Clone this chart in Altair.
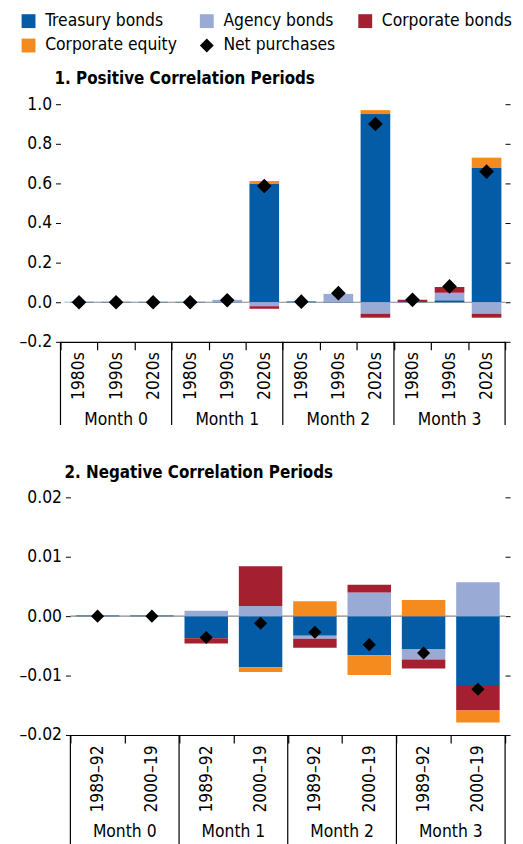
import altair as alt
import pandas as pd

FONT = "DejaVu Sans Condensed"
FS = 17.5

series = ["Treasury bonds", "Agency bonds", "Corporate bonds", "Corporate equity"]
series_colors = ["#045BA6", "#99AAD4", "#A41F30", "#F58A1F"]
net_label = "Net purchases"
months = ["Month 0", "Month 1", "Month 2", "Month 3"]

# Panel 1: Positive correlation periods
p1_periods = ["1980s", "1990s", "2020s"]
p1_treasury = [0.002, 0.002, 0.002, 0.002, 0.001, 0.600, 0.004, 0.003, 0.950, 0.006, 0.010, 0.680]
p1_agency = [0.0, 0.0, 0.0, 0.0, 0.011, -0.020, 0.0, 0.039, -0.058, 0.0, 0.038, -0.058]
p1_corp_bonds = [0.0, 0.0, 0.0, 0.0, 0.0, -0.013, 0.0, 0.0, -0.020, 0.006, 0.029, -0.020]
p1_corp_equity = [0.0, 0.0, 0.0, 0.0, 0.0, 0.012, 0.0, 0.0, 0.020, 0.0, 0.0, 0.050]
p1_net = [0.0, 0.0, 0.0, 0.0, 0.010, 0.587, 0.003, 0.046, 0.900, 0.012, 0.080, 0.660]
p1_ticks = [-0.2, 0.0, 0.2, 0.4, 0.6, 0.8, 1.0]

# Panel 2: Negative correlation periods
p2_periods = ["1989–92", "2000–19"]
p2_treasury = [0.0001, 0.0001, -0.0037, -0.0086, -0.0033, -0.0066, -0.0056, -0.0116]
p2_agency = [0.0, 0.0, 0.0009, 0.0017, -0.0005, 0.0040, -0.0017, 0.0057]
p2_corp_bonds = [0.0, 0.0, -0.0009, 0.0067, -0.0015, 0.0013, -0.0015, -0.0043]
p2_corp_equity = [0.0, 0.0, 0.0, -0.0008, 0.0025, -0.0033, 0.0027, -0.0020]
p2_net = [0.0, 0.0, -0.0036, -0.0012, -0.0027, -0.0048, -0.0062, -0.0123]
p2_ticks = [-0.02, -0.01, 0.0, 0.01, 0.02]

color_scale = alt.Scale(domain=series + [net_label], range=series_colors + ["black"])
shape_scale = alt.Scale(domain=series + [net_label],
                        range=["square", "square", "square", "square", "diamond"])
legend = alt.Legend(title=None, orient="none", legendX=-51, legendY=-93, columns=3,
                    direction="horizontal", symbolSize=196, symbolStrokeWidth=0,
                    labelFontSize=FS, labelFont=FONT, labelColor="black",
                    columnPadding=21, rowPadding=6, labelOffset=8, padding=0, offset=0)


def build_panel(periods, treasury, agency, corp_bonds, corp_equity, net, domain, ticks,
                decimals, title, width, left_extra, height, sep_len, month_y, dsize):
    keys = [f"{m}|{p}" for m in months for p in periods]
    rows = []
    for i, k in enumerate(keys):
        for j, vals in enumerate([treasury, agency, corp_bonds, corp_equity]):
            rows.append({"key": k, "series": series[j], "value": vals[i], "ord": j})
    bars_df = pd.DataFrame(rows)
    net_df = pd.DataFrame({"key": keys, "value": net, "series": [net_label] * len(keys)})
    starts_df = pd.DataFrame({"key": [f"{m}|{periods[0]}" for m in months]})
    end_df = pd.DataFrame({"key": [keys[-1]]})
    n = len(periods)
    mid = periods[n // 2]
    mid_bp = 0.5 if n % 2 else 0.0
    month_df = pd.DataFrame({"key": [f"{m}|{mid}" for m in months], "month": months})
    zero_df = pd.DataFrame({"zero": [0.0]})

    xscale = alt.Scale(domain=keys, range=[-left_extra, width], paddingInner=0, paddingOuter=0)
    yscale = alt.Scale(domain=domain, nice=False, zero=False)
    fmt = f".{decimals}f"
    ylabel = f"datum.value < 0 ? '–' + format(-datum.value, '{fmt}') : format(datum.value, '{fmt}')"

    xaxis = alt.Axis(title=None, labelExpr="split(datum.value, '|')[1]", labelAngle=270,
                     tickBand="extent", tickSize=8, tickColor="black", domainColor="black",
                     domainWidth=1.2, tickWidth=1.2, labelPadding=2, grid=False,
                     labelFontSize=FS, labelFont=FONT, labelColor="black")
    yaxis_left = alt.Axis(title=None, values=ticks, labelExpr=ylabel, domain=False,
                          tickSize=5, tickColor="black", labelPadding=4, grid=False,
                          labelFontSize=FS, labelFont=FONT, labelColor="black",
                          offset=left_extra)
    yaxis_right = alt.Axis(title=None, values=ticks, orient="right", labels=False,
                           domain=False, tickSize=5, tickColor="black", grid=False)

    zero = alt.Chart(zero_df).mark_rule(color="#8a8a8a", strokeWidth=1.2).encode(
        y=alt.Y("zero:Q", scale=yscale, axis=yaxis_right)
    )
    bars = alt.Chart(bars_df).mark_bar(width={"band": 0.8}).encode(
        x=alt.X("key:N", scale=xscale, axis=xaxis),
        y=alt.Y("value:Q", stack="zero", scale=yscale, axis=yaxis_left),
        color=alt.Color("series:N", scale=color_scale, legend=legend),
        order=alt.Order("ord:Q", sort="ascending"),
    )
    seps = alt.Chart(starts_df).mark_rule(color="black", strokeWidth=1.2).encode(
        x=alt.X("key:N", scale=xscale, axis=xaxis, bandPosition=0),
        y=alt.value(height), y2=alt.value(height + sep_len),
    )
    sep_end = alt.Chart(end_df).mark_rule(color="black", strokeWidth=1.2).encode(
        x=alt.X("key:N", scale=xscale, axis=xaxis, bandPosition=1),
        y=alt.value(height), y2=alt.value(height + sep_len),
    )
    pts = alt.Chart(net_df).mark_point(filled=True, size=dsize, opacity=1).encode(
        x=alt.X("key:N", scale=xscale, axis=xaxis),
        y=alt.Y("value:Q", scale=yscale, axis=None),
        color=alt.Color("series:N", scale=color_scale, legend=legend),
        shape=alt.Shape("series:N", scale=shape_scale, legend=legend),
    )
    mlabels = alt.Chart(month_df).mark_text(font=FONT, fontSize=FS, color="black",
                                             baseline="alphabetic", align="center").encode(
        x=alt.X("key:N", scale=xscale, axis=xaxis, bandPosition=mid_bp),
        y=alt.value(month_y),
        text="month:N",
    )
    return alt.layer(zero, bars, seps, sep_end, pts, mlabels).resolve_axis(
        y="independent"
    ).properties(
        width=width, height=height,
        title=alt.TitleParams(title, anchor="start", frame="group", font=FONT,
                              fontSize=17, fontWeight="bold", dx=-6 - left_extra,
                              dy=20, offset=14, baseline="alphabetic", color="black"),
    )


p1 = build_panel(p1_periods, p1_treasury, p1_agency, p1_corp_bonds, p1_corp_equity, p1_net,
                 [-0.2, 1.0], p1_ticks, 1, "1. Positive Correlation Periods",
                 439, 10, 240, 84, 324, 220)
p2 = build_panel(p2_periods, p2_treasury, p2_agency, p2_corp_bonds, p2_corp_equity, p2_net,
                 [-0.02, 0.02], p2_ticks, 2, "2. Negative Correlation Periods",
                 439, 0, 240, 110, 343, 175)

chart = alt.vconcat(p1, p2, spacing=35).properties(
    padding={"left": 11, "top": 0, "right": 0, "bottom": 0}
).configure_view(stroke=None).configure_legend(labelFont=FONT)

chart.save("out.html", embed_options={"renderer": "svg", "actions": False})
